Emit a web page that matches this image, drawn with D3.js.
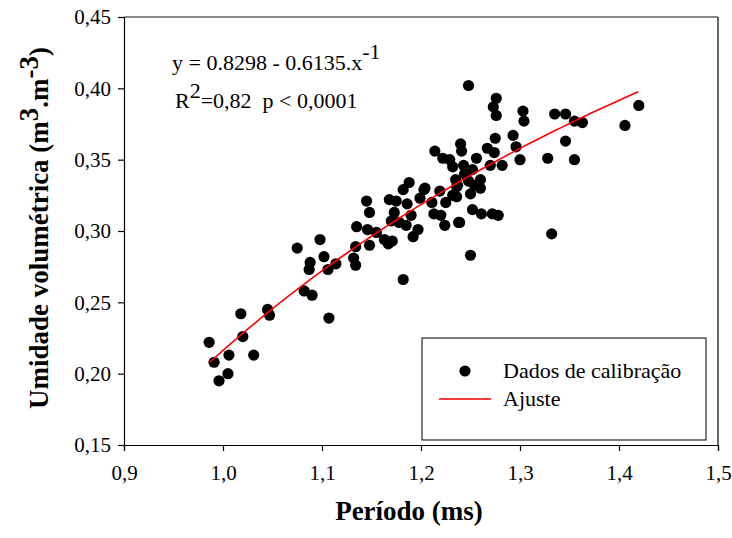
<!DOCTYPE html>
<html>
<head>
<meta charset="utf-8">
<script src="https://cdn.jsdelivr.net/npm/d3@7"></script>
<style>
  body { margin: 0; background: #fff; }
  text { font-family: "Liberation Serif", "Times New Roman", serif; fill: #000; }
</style>
</head>
<body>
<svg id="svg"></svg>
<script>
  // calibration data
  const periodo = [0.986, 0.991, 0.996, 1.005, 1.006, 1.018, 1.020, 1.031, 1.045, 1.047,
    1.082, 1.090, 1.107, 1.075, 1.098, 1.088, 1.087, 1.102, 1.106, 1.114,
    1.135, 1.134, 1.132, 1.134, 1.145, 1.148, 1.146, 1.148, 1.155, 1.163,
    1.167, 1.171, 1.168, 1.175, 1.173, 1.186, 1.170, 1.178, 1.185, 1.190,
    1.197, 1.192, 1.182, 1.182, 1.188, 1.203, 1.199, 1.211, 1.219, 1.225,
    1.232, 1.213, 1.220, 1.224, 1.238, 1.237, 1.248, 1.276, 1.273, 1.276,
    1.303, 1.304, 1.335, 1.346, 1.355, 1.363, 1.346, 1.328, 1.355, 1.293,
    1.296, 1.300, 1.275, 1.267, 1.274, 1.270, 1.282, 1.240, 1.241, 1.214,
    1.222, 1.229, 1.232, 1.243, 1.256, 1.244, 1.252, 1.260, 1.254, 1.248,
    1.235, 1.236, 1.204, 1.260, 1.250, 1.252, 1.261, 1.272, 1.278, 1.239,
    1.250, 1.236, 1.420, 1.406, 1.332];
  const umidade = [0.222, 0.208, 0.195, 0.200, 0.213, 0.242, 0.226, 0.213, 0.245, 0.241,
    0.258, 0.255, 0.239, 0.288, 0.294, 0.278, 0.273, 0.282, 0.273, 0.277,
    0.303, 0.289, 0.281, 0.276, 0.321, 0.313, 0.301, 0.290, 0.299, 0.294,
    0.291, 0.293, 0.322, 0.321, 0.313, 0.319, 0.307, 0.306, 0.304, 0.311,
    0.301, 0.296, 0.266, 0.329, 0.334, 0.329, 0.323, 0.320, 0.328, 0.320,
    0.325, 0.312, 0.311, 0.304, 0.306, 0.332, 0.402, 0.393, 0.387, 0.381,
    0.384, 0.377, 0.382, 0.382, 0.377, 0.376, 0.363, 0.351, 0.350, 0.367,
    0.359, 0.350, 0.365, 0.358, 0.355, 0.346, 0.346, 0.361, 0.356, 0.356,
    0.351, 0.350, 0.345, 0.346, 0.351, 0.340, 0.343, 0.336, 0.332, 0.335,
    0.336, 0.331, 0.330, 0.330, 0.326, 0.315, 0.312, 0.312, 0.311, 0.306,
    0.283, 0.324, 0.388, 0.374, 0.298];

  // fitted model y = a - b / x
  const fitA = 0.8298;
  const fitB = 0.6135;
  const fitRange = [0.987, 1.4195];

  const xTicks = [0.9, 1.0, 1.1, 1.2, 1.3, 1.4, 1.5];
  const yTicks = [0.15, 0.20, 0.25, 0.30, 0.35, 0.40, 0.45];

  const marginLeft = 124;
  const marginRight = 14;
  const marginTop = 17;
  const marginBottom = 93;
  const width = 732 - marginLeft - marginRight;
  const height = 538 - marginTop - marginBottom;

  const svg = d3.select("#svg")
      .attr("width", 732)
      .attr("height", 538);

  const xScale = d3.scaleLinear().domain([0.9, 1.5]).range([0, width]);
  const yScale = d3.scaleLinear().domain([0.15, 0.45]).range([height, 0]);

  const fmt = d => d3.format(".2f")(d).replace(".", ",");
  const fmtX = d => d3.format(".1f")(d).replace(".", ",");

  const chart = svg.append("g")
      .attr("transform", `translate(${marginLeft}, ${marginTop})`);

  // frame top & right
  chart.append("line")
      .attr("x1", 0).attr("x2", width).attr("y1", 0).attr("y2", 0)
      .attr("stroke", "#666").attr("stroke-width", 1.5);
  chart.append("line")
      .attr("x1", width).attr("x2", width).attr("y1", 0).attr("y2", height)
      .attr("stroke", "#000").attr("stroke-width", 1.2);

  const yAxis = chart.append("g")
      .call(d3.axisLeft(yScale).tickValues(yTicks).tickFormat(fmt).tickSize(6).tickPadding(7));
  const xAxis = chart.append("g")
      .attr("transform", `translate(0, ${height})`)
      .call(d3.axisBottom(xScale).tickValues(xTicks).tickFormat(fmtX).tickSize(6).tickPadding(14));

  [xAxis, yAxis].forEach(function(a){
    a.select(".domain").attr("stroke", "#000").attr("stroke-width", 1.2);
    a.selectAll(".tick line").attr("stroke", "#000").attr("stroke-width", 1.2);
    a.selectAll(".tick text")
        .attr("font-family", "Liberation Serif, Times New Roman, serif")
        .attr("font-size", 21)
        .attr("fill", "#000");
  });

  // points
  const pts = periodo.map((p, i) => ({x: p, y: umidade[i]}));
  chart.selectAll(".dot")
      .data(pts)
      .enter().append("circle")
      .attr("class", "dot")
      .attr("cx", d => xScale(d.x))
      .attr("cy", d => yScale(d.y))
      .attr("r", 5.6)
      .attr("fill", "#000");

  // fit curve
  const curveX = d3.range(fitRange[0], fitRange[1], 0.005).concat([fitRange[1]]);
  chart.append("path")
      .datum(curveX)
      .attr("fill", "none")
      .attr("stroke", "#ff0000")
      .attr("stroke-width", 1.6)
      .attr("d", d3.line()
        .x(d => xScale(d))
        .y(d => yScale(fitA - fitB / d)));

  // equation
  const eq = svg.append("text")
      .attr("x", 172).attr("y", 70)
      .attr("font-size", 22);
  eq.append("tspan").text("y = 0.8298 - 0.6135.x");
  eq.append("tspan").attr("dy", -11).text("-1");

  const r2 = svg.append("text")
      .attr("x", 175).attr("y", 108)
      .attr("font-size", 22);
  r2.append("tspan").text("R");
  r2.append("tspan").attr("dy", -10).text("2");
  r2.append("tspan").attr("dy", 10).text("=0,82\u00a0 p < 0,0001");

  // legend
  const legend = svg.append("g");
  legend.append("rect")
      .attr("x", 422).attr("y", 338).attr("width", 284).attr("height", 102)
      .attr("fill", "#fff").attr("stroke", "#000").attr("stroke-width", 1);
  legend.append("circle")
      .attr("cx", 465).attr("cy", 371).attr("r", 5.6).attr("fill", "#000");
  legend.append("text")
      .attr("x", 503).attr("y", 378).attr("font-size", 22)
      .text("Dados de calibração");
  legend.append("line")
      .attr("x1", 439).attr("x2", 491).attr("y1", 399).attr("y2", 399)
      .attr("stroke", "#ff0000").attr("stroke-width", 1.6);
  legend.append("text")
      .attr("x", 503).attr("y", 406).attr("font-size", 22)
      .text("Ajuste");

  // axis titles
  svg.append("text")
      .attr("x", 409).attr("y", 520)
      .attr("text-anchor", "middle")
      .attr("font-size", 27).attr("font-weight", "bold")
      .text("Período (ms)");

  const yt = svg.append("text")
      .attr("transform", "translate(48, 228) rotate(-90)")
      .attr("text-anchor", "middle")
      .attr("font-size", 27).attr("font-weight", "bold");
  yt.append("tspan").text("Umidade volumétrica (m");
  yt.append("tspan").attr("dy", -10).text("3");
  yt.append("tspan").attr("dy", 10).text(".m");
  yt.append("tspan").attr("dy", -10).text("-3");
  yt.append("tspan").attr("dy", 10).text(")");
</script>
</body>
</html>
